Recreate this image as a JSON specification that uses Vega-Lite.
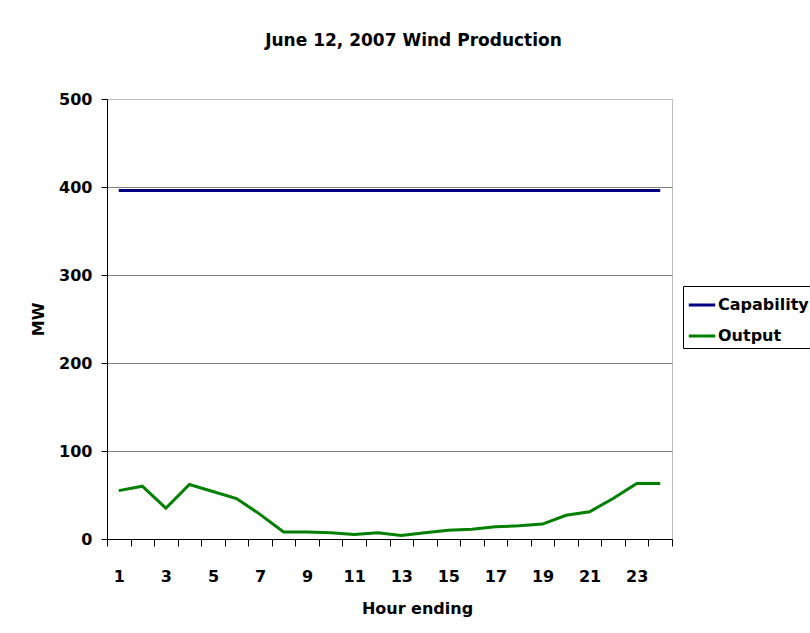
{
  "$schema": "https://vega.github.io/schema/vega-lite/v6.json",
  "autosize": "none",
  "width": 565,
  "height": 440,
  "padding": {"left": 107, "top": 99, "right": 138, "bottom": 94},
  "background": "white",
  "config": {
    "font": "DejaVu Sans",
    "view": {"stroke": "#c0c0c0", "strokeWidth": 1}
  },
  "title": {
    "text": "June 12, 2007 Wind Production",
    "font": "DejaVu Sans",
    "fontSize": 17,
    "fontWeight": "bold",
    "color": "black",
    "anchor": "middle",
    "baseline": "alphabetic",
    "offset": 28,
    "dx": 24
  },
  "data": {
    "values": [
      {"hour": 1, "series": "Capability", "mw": 396},
      {"hour": 2, "series": "Capability", "mw": 396},
      {"hour": 3, "series": "Capability", "mw": 396},
      {"hour": 4, "series": "Capability", "mw": 396},
      {"hour": 5, "series": "Capability", "mw": 396},
      {"hour": 6, "series": "Capability", "mw": 396},
      {"hour": 7, "series": "Capability", "mw": 396},
      {"hour": 8, "series": "Capability", "mw": 396},
      {"hour": 9, "series": "Capability", "mw": 396},
      {"hour": 10, "series": "Capability", "mw": 396},
      {"hour": 11, "series": "Capability", "mw": 396},
      {"hour": 12, "series": "Capability", "mw": 396},
      {"hour": 13, "series": "Capability", "mw": 396},
      {"hour": 14, "series": "Capability", "mw": 396},
      {"hour": 15, "series": "Capability", "mw": 396},
      {"hour": 16, "series": "Capability", "mw": 396},
      {"hour": 17, "series": "Capability", "mw": 396},
      {"hour": 18, "series": "Capability", "mw": 396},
      {"hour": 19, "series": "Capability", "mw": 396},
      {"hour": 20, "series": "Capability", "mw": 396},
      {"hour": 21, "series": "Capability", "mw": 396},
      {"hour": 22, "series": "Capability", "mw": 396},
      {"hour": 23, "series": "Capability", "mw": 396},
      {"hour": 24, "series": "Capability", "mw": 396},
      {"hour": 1, "series": "Output", "mw": 55},
      {"hour": 2, "series": "Output", "mw": 60},
      {"hour": 3, "series": "Output", "mw": 35},
      {"hour": 4, "series": "Output", "mw": 62},
      {"hour": 5, "series": "Output", "mw": 54},
      {"hour": 6, "series": "Output", "mw": 46},
      {"hour": 7, "series": "Output", "mw": 28},
      {"hour": 8, "series": "Output", "mw": 8},
      {"hour": 9, "series": "Output", "mw": 8},
      {"hour": 10, "series": "Output", "mw": 7},
      {"hour": 11, "series": "Output", "mw": 5},
      {"hour": 12, "series": "Output", "mw": 7},
      {"hour": 13, "series": "Output", "mw": 4},
      {"hour": 14, "series": "Output", "mw": 7},
      {"hour": 15, "series": "Output", "mw": 10},
      {"hour": 16, "series": "Output", "mw": 11},
      {"hour": 17, "series": "Output", "mw": 14},
      {"hour": 18, "series": "Output", "mw": 15},
      {"hour": 19, "series": "Output", "mw": 17},
      {"hour": 20, "series": "Output", "mw": 27},
      {"hour": 21, "series": "Output", "mw": 31},
      {"hour": 22, "series": "Output", "mw": 46},
      {"hour": 23, "series": "Output", "mw": 63},
      {"hour": 24, "series": "Output", "mw": 63}
    ]
  },
  "mark": {"type": "line", "strokeWidth": 3},
  "encoding": {
    "x": {
      "field": "hour",
      "type": "ordinal",
      "scale": {"paddingInner": 0, "paddingOuter": 0},
      "axis": {
        "title": "Hour ending",
        "titleFont": "DejaVu Sans",
        "titleFontSize": 16,
        "titleFontWeight": "bold",
        "titleColor": "black",
        "titleX": 310,
        "titleY": 69,
        "titleBaseline": "middle",
        "labelAngle": 0,
        "labelFont": "DejaVu Sans",
        "labelFontSize": 16,
        "labelFontWeight": "bold",
        "labelColor": "black",
        "labelPadding": 22,
        "labelExpr": "datum.value % 2 === 1 ? datum.label : ''",
        "tickBand": "extent",
        "tickSize": 7,
        "tickColor": "black",
        "domainColor": "black",
        "grid": false
      }
    },
    "y": {
      "field": "mw",
      "type": "quantitative",
      "scale": {"domain": [0, 500], "nice": false},
      "axis": {
        "title": "MW",
        "titleFont": "DejaVu Sans",
        "titleFontSize": 16,
        "titleFontWeight": "bold",
        "titleColor": "black",
        "titleX": -69,
        "titleY": 220,
        "titleBaseline": "middle",
        "titleAngle": -90,
        "values": [0, 100, 200, 300, 400, 500],
        "labelFont": "DejaVu Sans",
        "labelFontSize": 16,
        "labelFontWeight": "bold",
        "labelColor": "black",
        "labelPadding": 9,
        "tickSize": 6,
        "tickColor": "black",
        "domainColor": "black",
        "grid": true,
        "gridColor": {"condition": {"test": "datum.value === 500", "value": "#c0c0c0"}, "value": "#808080"},
        "gridOpacity": 1
      }
    },
    "color": {
      "field": "series",
      "type": "nominal",
      "scale": {"domain": ["Capability", "Output"], "range": ["#000080", "#008000"]},
      "legend": {
        "title": null,
        "orient": "none",
        "legendX": 576,
        "legendY": 187,
        "symbolType": "stroke",
        "symbolSize": 700,
        "symbolStrokeWidth": 3,
        "labelFont": "DejaVu Sans",
        "labelFontSize": 16,
        "labelFontWeight": "bold",
        "labelColor": "black",
        "labelOffset": 1,
        "rowPadding": 8,
        "padding": 4,
        "strokeColor": "black",
        "fillColor": "white"
      }
    }
  }
}
